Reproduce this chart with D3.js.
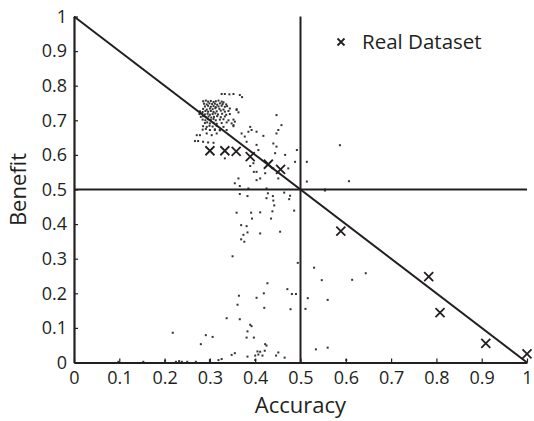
<!DOCTYPE html>
<html>
<head>
<meta charset="utf-8">
<script src="https://cdn.jsdelivr.net/npm/d3@7"></script>
<style>
  body { margin: 0; background: #fff; }
  text { font-family: "Open Sans", "Noto Sans", sans-serif; fill: #231f20; }
</style>
</head>
<body>
<div id="graph"></div>
<script>
// tick values
const xTicks = [0, 0.1, 0.2, 0.3, 0.4, 0.5, 0.6, 0.7, 0.8, 0.9, 1];
const yTicks = [0, 0.1, 0.2, 0.3, 0.4, 0.5, 0.6, 0.7, 0.8, 0.9, 1];

// "Real Dataset" crosses
const realX = [0.300, 0.333, 0.358, 0.389, 0.429, 0.456, 0.589, 0.783, 0.808, 0.909, 1.000];
const realY = [0.612, 0.612, 0.610, 0.595, 0.573, 0.558, 0.380, 0.248, 0.144, 0.055, 0.025];

// dense cloud of small dots, upper left
const clusterDots = [
  [0.285,0.755],[0.291,0.757],[0.296,0.754],[0.302,0.756],[0.308,0.753],[0.313,0.755],[0.319,0.757],[0.326,0.754],[0.330,0.752],
  [0.287,0.748],[0.293,0.746],[0.299,0.749],[0.305,0.747],[0.311,0.748],[0.316,0.745],[0.322,0.749],[0.328,0.747],[0.336,0.746],
  [0.289,0.740],[0.296,0.742],[0.302,0.739],[0.308,0.741],[0.313,0.738],[0.319,0.740],[0.326,0.742],[0.333,0.739],[0.338,0.741],
  [0.285,0.733],[0.293,0.731],[0.300,0.734],[0.306,0.732],[0.312,0.735],[0.321,0.733],[0.330,0.731],[0.344,0.734],[0.359,0.732],
  [0.278,0.726],[0.284,0.724],[0.290,0.727],[0.296,0.725],[0.302,0.727],[0.308,0.724],[0.315,0.726],[0.324,0.728],[0.333,0.725],[0.341,0.727],
  [0.277,0.718],[0.283,0.720],[0.289,0.717],[0.295,0.719],[0.300,0.716],[0.306,0.718],[0.312,0.720],[0.318,0.717],[0.327,0.719],[0.336,0.716],[0.344,0.718],
  [0.280,0.710],[0.285,0.712],[0.291,0.709],[0.297,0.711],[0.303,0.708],[0.309,0.710],[0.316,0.712],[0.324,0.709],[0.333,0.711],
  [0.284,0.702],[0.290,0.700],[0.296,0.703],[0.302,0.701],[0.308,0.704],[0.313,0.700],[0.322,0.702],[0.330,0.703],[0.341,0.700],[0.352,0.702],
  [0.289,0.692],[0.294,0.694],[0.300,0.691],[0.308,0.693],[0.315,0.690],[0.326,0.692],[0.337,0.694],[0.348,0.691],
  [0.285,0.683],[0.293,0.681],[0.299,0.684],[0.306,0.682],[0.315,0.684],[0.330,0.681],[0.352,0.683],
  [0.284,0.673],[0.291,0.675],[0.300,0.672],[0.311,0.674],[0.322,0.671],
  [0.326,0.776],[0.333,0.776],[0.343,0.775],[0.352,0.776],[0.366,0.773],[0.371,0.767]
];

// scattered dots
const scatterDots = [
  [0.359,0.730],[0.363,0.723],[0.447,0.715],[0.458,0.686],[0.451,0.672],[0.447,0.662],
  [0.389,0.681],[0.392,0.672],[0.403,0.667],[0.385,0.667],[0.370,0.662],[0.377,0.653],
  [0.381,0.638],[0.418,0.655],[0.440,0.633],[0.447,0.624],[0.444,0.605],[0.403,0.629],
  [0.407,0.614],[0.492,0.614],[0.488,0.580],[0.514,0.580],[0.466,0.600],[0.473,0.561],
  [0.396,0.576],[0.403,0.551],[0.397,0.551],[0.389,0.568],[0.422,0.547],[0.411,0.532],
  [0.403,0.527],[0.440,0.561],[0.451,0.532],[0.514,0.523],[0.554,0.500],[0.363,0.532],
  [0.355,0.518],[0.366,0.510],[0.385,0.503],[0.425,0.503],
  [0.267,0.640],[0.274,0.640],[0.285,0.638],[0.296,0.636],[0.308,0.635],[0.271,0.657],
  [0.278,0.657],[0.293,0.662],[0.304,0.657],[0.315,0.662],[0.311,0.672],[0.322,0.672],
  [0.337,0.672],[0.352,0.686],[0.355,0.696],[0.333,0.590],
  [0.366,0.487],[0.383,0.481],[0.428,0.489],[0.439,0.481],[0.464,0.491],[0.477,0.482],
  [0.425,0.475],[0.440,0.468],[0.475,0.472],[0.442,0.454],[0.359,0.433],[0.391,0.433],
  [0.411,0.434],[0.438,0.437],[0.486,0.439],[0.393,0.416],[0.435,0.416],[0.369,0.397],
  [0.381,0.394],[0.383,0.376],[0.411,0.373],[0.374,0.369],[0.455,0.378],[0.369,0.356],
  [0.376,0.349],[0.350,0.307],[0.494,0.288],[0.530,0.274],[0.547,0.238],[0.560,0.181],
  [0.427,0.229],[0.471,0.212],[0.481,0.198],[0.490,0.198],[0.364,0.193],[0.419,0.200],
  [0.403,0.187],[0.361,0.167],[0.420,0.158],[0.478,0.154],[0.516,0.186],[0.511,0.155],
  [0.337,0.128],[0.366,0.125],[0.389,0.109],[0.392,0.105],[0.383,0.090],[0.291,0.079],
  [0.306,0.074],[0.381,0.072],[0.397,0.072],[0.280,0.053],[0.422,0.053],[0.425,0.049],
  [0.405,0.032],[0.411,0.031],[0.421,0.034],[0.451,0.029],[0.355,0.027],[0.348,0.022],
  [0.407,0.023],[0.416,0.020],[0.446,0.020],[0.383,0.017],[0.400,0.020],[0.465,0.014],
  [0.326,0.010],[0.319,0.007],[0.300,0.007],[0.250,0.002],[0.400,0.007],[0.534,0.038],
  [0.560,0.043],[0.587,0.628],[0.607,0.524],[0.554,0.497],[0.614,0.239],[0.644,0.258],
  [0.601,0.007],[0.098,0.002],[0.153,0.002],[0.201,0.005],[0.218,0.086],[0.225,0.002],
  [0.232,0.004],[0.238,0.002],[0.269,0.002],[0.300,0.002]
];

const W = 534, H = 421;
const margin = { top: 16.5, right: 7, bottom: 58.5, left: 74 };
const width = W - margin.left - margin.right,
  height = H - margin.top - margin.bottom;
const ink = "#231f20";

const svg = d3.select("#graph")
  .append("svg")
  .attr("width", W)
  .attr("height", H);

const g = svg.append("g")
  .attr("transform", "translate(" + margin.left + "," + margin.top + ")");

const x = d3.scaleLinear().domain([0, 1]).range([0, 453]);
const y = d3.scaleLinear().domain([0, 1]).range([346, 0]);

// dots first, lines on top
g.selectAll(".dot")
  .data(clusterDots.concat(scatterDots))
  .enter()
  .append("rect")
  .attr("x", d => x(d[0]) - 1)
  .attr("y", d => y(d[1]) - 1)
  .attr("width", 2)
  .attr("height", 2)
  .attr("fill", "#333");

// reference lines
const line = d3.line().x(d => x(d[0])).y(d => y(d[1]));
const refLines = [
  [[0, 1], [1, 0]],
  [[0.5, 0], [0.5, 1]],
  [[0, 0.5], [1, 0.5]]
];
g.selectAll(".ref")
  .data(refLines)
  .enter()
  .append("path")
  .attr("d", line)
  .attr("fill", "none")
  .attr("stroke", ink)
  .attr("stroke-width", 2);

// axes
const fmt = d => (d === 0 || d === 1 ? String(d) : d.toFixed(1));
const xAxis = g.append("g")
  .attr("transform", "translate(0," + y(0) + ")")
  .call(d3.axisBottom(x).tickValues(xTicks).tickFormat(fmt).tickSize(-4).tickSizeOuter(0).tickPadding(9));
const yAxis = g.append("g")
  .call(d3.axisLeft(y).tickValues(yTicks).tickFormat(fmt).tickSize(-4).tickSizeOuter(0).tickPadding(7));

[xAxis, yAxis].forEach(a => {
  a.select(".domain").attr("stroke", ink).attr("stroke-width", 2.2);
  a.selectAll(".tick line").attr("stroke", ink).attr("stroke-width", 1.2);
  a.selectAll("text").style("font-size", "18px").attr("fill", ink);
});

// crosses
const cross = (sel, s) => sel.append("path")
  .attr("d", "M" + -s + "," + -s + "L" + s + "," + s + "M" + -s + "," + s + "L" + s + "," + -s)
  .attr("stroke", ink)
  .attr("stroke-width", 1.8)
  .attr("fill", "none");

realX.forEach((v, i) => {
  const c = g.append("g").attr("transform", "translate(" + x(v) + "," + y(realY[i]) + ")");
  cross(c, 4.5);
});

// legend
const leg = svg.append("g").attr("transform", "translate(341,42)");
cross(leg, 3.5);
leg.append("text")
  .attr("x", 21)
  .attr("y", 7)
  .style("font-size", "20.5px")
  .text("Real Dataset");

// axis titles
svg.append("text")
  .attr("x", margin.left + x(0.5))
  .attr("y", 413)
  .attr("text-anchor", "middle")
  .style("font-size", "22px")
  .text("Accuracy");

svg.append("text")
  .attr("transform", "translate(26," + (margin.top + y(0.5)) + ") rotate(-90)")
  .attr("text-anchor", "middle")
  .style("font-size", "22px")
  .text("Benefit");
</script>
</body>
</html>
